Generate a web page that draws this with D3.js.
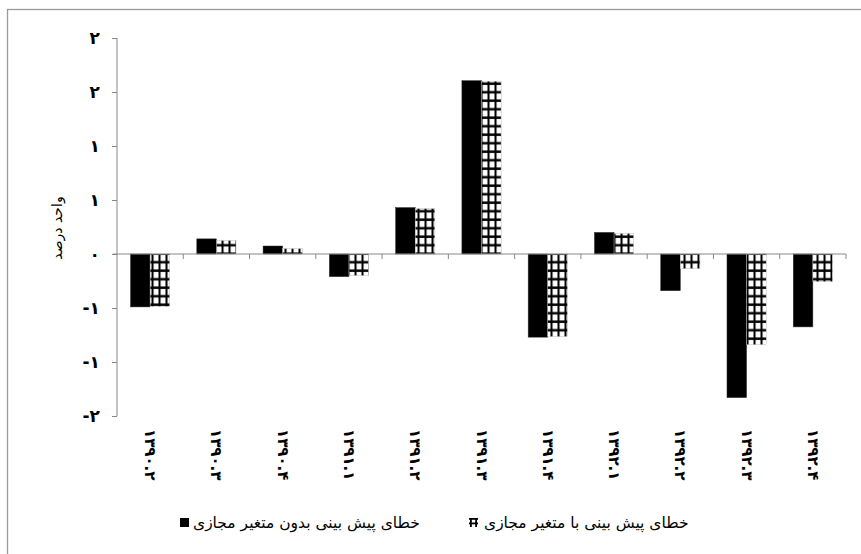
<!DOCTYPE html>
<html>
<head>
<meta charset="utf-8">
<script src="https://cdn.jsdelivr.net/npm/d3@7/dist/d3.min.js"></script>
<style>
  html, body { margin: 0; padding: 0; background: #fff; }
  svg { display: block; }
</style>
</head>
<body>
<script>
const categories = ["۱۳۹۰.۲","۱۳۹۰.۳","۱۳۹۰.۴","۱۳۹۱.۱","۱۳۹۱.۲","۱۳۹۱.۳","۱۳۹۱.۴","۱۳۹۲.۱","۱۳۹۲.۲","۱۳۹۲.۳","۱۳۹۲.۴"];
const seriesNames = ["خطای پیش بینی بدون متغیر مجازی", "خطای پیش بینی با متغیر مجازی"];
const withoutDummy = [-0.49, 0.14, 0.074, -0.21, 0.43, 1.605, -0.77, 0.2, -0.34, -1.33, -0.675];
const withDummy = [-0.485, 0.125, 0.05, -0.2, 0.42, 1.6, -0.765, 0.19, -0.136, -0.84, -0.256];
const yTickValues = [-1.5, -1, -0.5, 0, 0.5, 1, 1.5, 2];
const yTickLabels = ["-۲", "-۱", "-۱", "۰", "۱", "۱", "۲", "۲"];
const yTitle = "واحد درصد";

const W = 861, H = 554;
const svg = d3.select("body").append("svg").attr("width", W).attr("height", H);

// hatch pattern
const defs = svg.append("defs");
const pat = defs.append("pattern").attr("id", "grid").attr("patternUnits", "userSpaceOnUse")
  .attr("width", 7).attr("height", 8.5);
pat.append("rect").attr("width", 7).attr("height", 8.5).attr("fill", "#fff");
pat.append("rect").attr("x", 0).attr("y", 0).attr("width", 7).attr("height", 8.5)
  .attr("fill", "none").attr("stroke", "#ddd").attr("stroke-width", 0.6);
pat.append("rect").attr("x", 4.5).attr("y", 0).attr("width", 2).attr("height", 8.5).attr("fill", "#000");
pat.append("rect").attr("x", 0).attr("y", 6).attr("width", 7).attr("height", 2.4).attr("fill", "#000");

// frame
svg.append("rect").attr("x", 7.5).attr("y", 9.5).attr("width", 900).attr("height", 600)
  .attr("fill", "none").attr("stroke", "#9a9a9a").attr("stroke-width", 1.3);

const x0 = d3.scaleBand().domain(categories).range([117, 846]).paddingInner(0).paddingOuter(0);
const x1 = d3.scaleBand().domain([0, 1]).range([0, x0.bandwidth()]).paddingInner(0).paddingOuter(0.69);
const y = d3.scaleLinear().domain([-1.5, 2]).range([416, 38]);

const data = categories.map((c, i) => ({ c, vals: [withoutDummy[i], withDummy[i]] }));

// bars
const g = svg.append("g");
data.forEach(d => {
  d.vals.forEach((v, k) => {
    const top = y(Math.max(0, v)), bot = y(Math.min(0, v));
    g.append("rect")
      .attr("x", x0(d.c) + x1(k))
      .attr("y", top)
      .attr("width", x1.bandwidth())
      .attr("height", bot - top)
      .attr("fill", k === 0 ? "#000" : "url(#grid)")
      .attr("stroke", k === 0 ? "#333" : "#bbb")
      .attr("stroke-width", 0.5);
  });
});

// y axis
const yAxis = d3.axisLeft(y).tickValues(yTickValues).tickSize(5).tickPadding(12)
  .tickFormat((d, i) => yTickLabels[i]);
const ya = svg.append("g").attr("transform", "translate(117,0)").call(yAxis);
ya.select(".domain").attr("stroke", "#888").attr("d", "M0,38V416");
ya.selectAll(".tick line").attr("stroke", "#888");
ya.selectAll(".tick text").attr("font-family", "DejaVu Sans").attr("font-size", 17)
  .attr("font-weight", "bold").attr("fill", "#000").attr("direction", "ltr");

// x axis at zero
const xAxis = d3.axisBottom(x0).tickSize(0).tickFormat("");
const xa = svg.append("g").attr("transform", `translate(0,${y(0)})`).call(xAxis);
xa.select(".domain").attr("stroke", "#888").attr("d", "M113,0H846");
// boundary ticks
xa.selectAll(".bt").data(categories).enter().append("line")
  .attr("x1", (d, i) => x0.range()[0] + (i + 1) * x0.step())
  .attr("x2", (d, i) => x0.range()[0] + (i + 1) * x0.step())
  .attr("y1", 0).attr("y2", 5).attr("stroke", "#888");

// x labels rotated
svg.append("g").selectAll("text").data(categories).enter().append("text")
  .attr("transform", d => `translate(${x0(d) + x0.bandwidth() / 2},429) rotate(90)`)
  .attr("text-anchor", "start").attr("dominant-baseline", "central")
  .attr("direction", "ltr")
  .attr("font-family", "DejaVu Sans").attr("font-size", 15).attr("font-weight", "bold")
  .text(d => d);

// y title
svg.append("text").attr("transform", "translate(57,228) rotate(-90)")
  .attr("text-anchor", "middle").attr("dominant-baseline", "central")
  .attr("font-family", "DejaVu Sans").attr("font-size", 14).text(yTitle);

// legend
const lg = svg.append("g");
lg.append("rect").attr("x", 180).attr("y", 518).attr("width", 9).attr("height", 9).attr("fill", "#000");
lg.append("text").attr("x", 193).attr("y", 523).attr("dominant-baseline", "central")
  .attr("font-family", "DejaVu Sans").attr("font-size", 15.5).text(seriesNames[0]);
// hatched legend swatch
const sw = lg.append("g").attr("transform", "translate(469,518)");
sw.append("rect").attr("x", 0).attr("y", 0).attr("width", 9).attr("height", 9).attr("fill", "#fff");
sw.append("rect").attr("x", 0).attr("y", 0).attr("width", 9).attr("height", 1.8).attr("fill", "#000");
sw.append("rect").attr("x", 0).attr("y", 4.5).attr("width", 9).attr("height", 1.8).attr("fill", "#000");
sw.append("rect").attr("x", 1).attr("y", 0).attr("width", 1.8).attr("height", 9).attr("fill", "#000");
sw.append("rect").attr("x", 6.2).attr("y", 0).attr("width", 1.8).attr("height", 9).attr("fill", "#000");
lg.append("text").attr("x", 484).attr("y", 523).attr("dominant-baseline", "central")
  .attr("font-family", "DejaVu Sans").attr("font-size", 15.5).text(seriesNames[1]);
</script>
</body>
</html>
